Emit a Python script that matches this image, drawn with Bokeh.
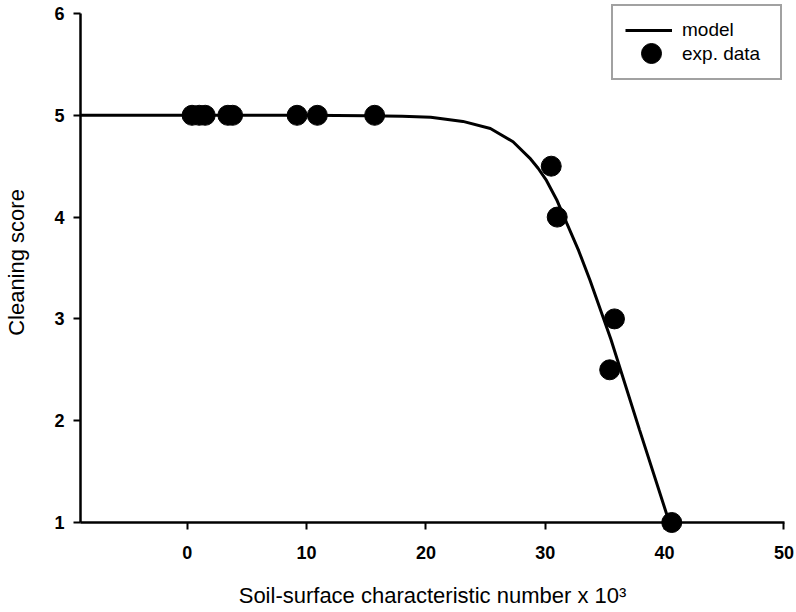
from bokeh.plotting import figure
from bokeh.models import Range1d, FixedTicker, Legend, LegendItem
from bokeh.embed import file_html
from bokeh.resources import INLINE

# experimental data
exp_x = [0.4, 1.0, 1.5, 3.4, 3.8, 9.2, 10.9, 15.7, 30.5, 31.0, 35.4, 35.8, 40.6]
exp_y = [5.0, 5.0, 5.0, 5.0, 5.0, 5.0, 5.0, 5.0, 4.5, 4.0, 2.5, 3.0, 1.0]

# model curve
model_x = [-8.95, 0, 10, 15, 18, 20.4, 23.1, 25.4, 27.3, 28.7, 29.4, 30.1, 31.0, 31.8, 32.8, 33.75, 35.5, 37.9, 40.4]
model_y = [5.0, 5.0, 5.0, 4.995, 4.99, 4.98, 4.94, 4.87, 4.74, 4.58, 4.48, 4.36, 4.16, 3.94, 3.67, 3.38, 2.80, 1.91, 1.0]

x_ticks = [0, 10, 20, 30, 40, 50]
y_ticks = [1, 2, 3, 4, 5, 6]

FONT = "Liberation Sans"

# y range runs slightly past 6 so the legend box fits inside the frame; the axis line stops at 6
p = figure(width=796, height=612, output_backend="svg", toolbar_location=None,
           x_range=Range1d(-8.95, 50.05), y_range=Range1d(1, 6.108),
           min_border_left=80, min_border_right=12, min_border_top=2, min_border_bottom=90)

p.outline_line_color = None
p.xgrid.visible = False
p.ygrid.visible = False
p.background_fill_color = "white"
p.border_fill_color = "white"

for ax in (p.xaxis[0], p.yaxis[0]):
    ax.axis_line_width = 2.5
    ax.axis_line_color = "black"
    ax.major_tick_line_width = 2
    ax.major_tick_line_color = "black"
    ax.major_tick_out = 7
    ax.major_tick_in = 0
    ax.minor_tick_out = 0
    ax.minor_tick_in = 0
    ax.major_label_text_font = FONT
    ax.major_label_text_font_size = "18px"
    ax.major_label_text_font_style = "bold"
    ax.major_label_text_color = "black"
    ax.axis_label_text_font = FONT
    ax.axis_label_text_font_size = "22px"
    ax.axis_label_text_font_style = "normal"
    ax.axis_label_text_color = "black"

p.xaxis[0].ticker = FixedTicker(ticks=x_ticks)
p.yaxis[0].ticker = FixedTicker(ticks=y_ticks)
p.yaxis[0].bounds = (y_ticks[0], y_ticks[-1])
p.xaxis[0].major_label_standoff = 16
p.xaxis[0].axis_label_standoff = 21
p.yaxis[0].major_label_standoff = 9
p.yaxis[0].axis_label_standoff = 22
p.xaxis[0].axis_label = "Soil-surface characteristic number x 10\u00b3"
p.yaxis[0].axis_label = "Cleaning score"

r_model = p.line(model_x, model_y, line_color="black", line_width=3)
r_exp = p.scatter(exp_x, exp_y, size=20, fill_color="black", line_color="black", level="overlay")
# invisible placeholder glyph for the second row of the boxed legend
r_blank = p.scatter([], [], size=1, fill_alpha=0, line_alpha=0)

# boxed legend: line sample + both labels, anchored at the frame's top right
legend_box = Legend(items=[LegendItem(label="model", renderers=[r_model]),
                           LegendItem(label="exp. data", renderers=[r_blank])],
                    location="top_right", level="overlay")
legend_box.margin = 2
legend_box.padding = 12
legend_box.spacing = 0
legend_box.glyph_height = 24
legend_box.glyph_width = 47
legend_box.label_height = 24
legend_box.label_width = 86
legend_box.label_standoff = 10
legend_box.label_text_font = FONT
legend_box.label_text_font_size = "19px"
legend_box.label_text_color = "black"
legend_box.border_line_color = "#444444"
legend_box.border_line_width = 2
legend_box.background_fill_color = "white"
legend_box.background_fill_alpha = 1.0
p.add_layout(legend_box, "center")

# large marker for the "exp. data" row (bigger glyph area -> bigger marker)
legend_pts = Legend(items=[LegendItem(label=" ", renderers=[r_exp])],
                    location=(545, 444), level="overlay")
legend_pts.padding = 0
legend_pts.margin = 0
legend_pts.spacing = 0
legend_pts.glyph_height = 50
legend_pts.glyph_width = 52
legend_pts.label_height = 0
legend_pts.label_width = 0
legend_pts.label_standoff = 0
legend_pts.label_text_font_size = "1px"
legend_pts.border_line_color = None
legend_pts.background_fill_alpha = 0
p.add_layout(legend_pts, "center")

open("out.html", "w").write(file_html(p, INLINE))
